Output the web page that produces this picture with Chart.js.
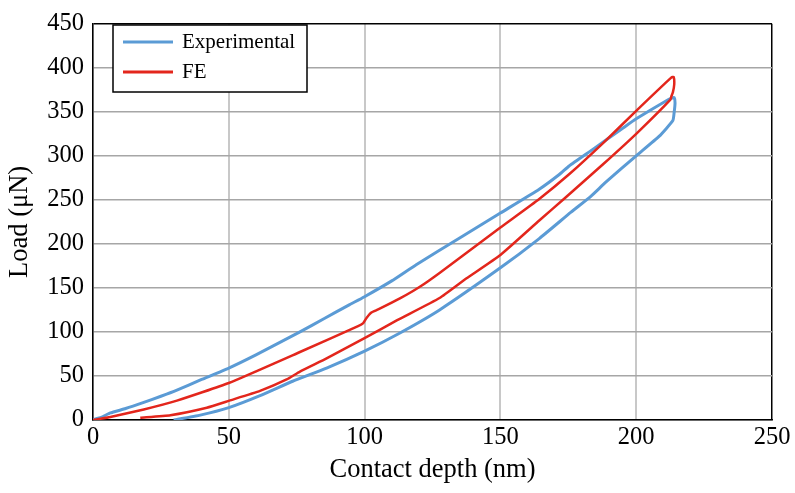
<!DOCTYPE html>
<html>
<head>
<meta charset="utf-8">
<script src="https://cdn.jsdelivr.net/npm/chart.js@4/dist/chart.umd.min.js"></script>
<style>
  html, body { margin: 0; padding: 0; background: #fff; }
  #wrap { width: 795px; height: 493px; }
</style>
</head>
<body>
<div id="wrap"><canvas id="chart" width="795" height="493"></canvas></div>
<script>
// experimental curve: loading then unloading
const expX = [0, 3, 6.4, 12, 18.7, 25, 30.9, 40, 50, 60, 76.2, 85, 94.5, 99.8, 110, 119, 135, 150, 164.3, 171.8, 175.3, 183.9, 194.9, 200, 210.8, 213, 214, 214.3, 214, 213.5,
  208.4, 200, 188.8, 183.3, 176, 164.3, 150, 127.6, 112.5, 99.8, 86, 73.5, 61.5, 50, 39.5, 29.7];
const expY = [0.5, 3, 8, 13, 20, 27, 34, 46, 59, 74, 100, 115, 131, 139.7, 158, 176.4, 206.6, 235, 262, 279, 288.5, 307, 331, 342, 362, 365.5, 366, 360, 350, 340,
  322, 300, 270, 254, 236, 206, 172.8, 125, 98, 78, 59, 44, 27.6, 14, 5.5, 0];

// FE curve: loading then unloading
const feX = [0, 6.4, 18.7, 30.9, 50, 76.2, 97.6, 99.5, 100.7, 102.5, 105, 113, 120.2, 127.6, 150, 164.3, 175.3, 188, 200, 213, 213.8, 214, 213.5, 213,
  212.6, 200, 188, 174.1, 164.3, 150, 137.4, 127.6, 112, 99.8, 86, 76.2, 71.3, 61.5, 50.2, 41.9, 28.5, 17.4];
const feY = [0, 3.5, 12, 22, 42, 77.2, 106.6, 110, 115.8, 122, 125.5, 138, 151, 167, 218.6, 251, 279, 315, 351, 389, 389.5, 381, 372, 368,
  363.8, 325, 291, 253, 226.5, 187.4, 160.6, 138.5, 113.3, 92.6, 70, 55, 46, 33, 22, 14, 5.5, 2.6];

const xTicks = [0, 50, 100, 150, 200, 250];
const yTicks = [0, 50, 100, 150, 200, 250, 300, 350, 400, 450];

const serif = '"Liberation Serif", "Times New Roman", serif';

function pts(xs, ys) {
  return xs.map((x, i) => ({ x: x, y: ys[i] }));
}

// legend box inside plot, top left
const boxLegend = {
  id: 'boxLegend',
  afterDraw(chart) {
    const ctx = chart.ctx;
    ctx.save();
    ctx.fillStyle = '#fff';
    ctx.fillRect(113, 25, 194, 67);
    ctx.strokeStyle = '#000';
    ctx.lineWidth = 1.5;
    ctx.strokeRect(113, 25, 194, 67);
    const items = [chart.data.datasets[1], chart.data.datasets[0]];
    items.forEach((ds, i) => {
      const y = 42 + i * 30;
      ctx.strokeStyle = ds.borderColor;
      ctx.lineWidth = 3;
      ctx.beginPath();
      ctx.moveTo(123, y);
      ctx.lineTo(173, y);
      ctx.stroke();
      ctx.fillStyle = '#000';
      ctx.font = '21px ' + serif;
      ctx.textBaseline = 'middle';
      ctx.fillText(ds.label, 182, y);
    });
    ctx.restore();
  }
};

new Chart(document.getElementById('chart'), {
  type: 'line',
  data: {
    datasets: [
      {
        label: 'FE',
        data: pts(feX, feY),
        borderColor: '#E3261C',
        borderWidth: 2.5,
        pointRadius: 0,
        tension: 0.15,
        order: 0
      },
      {
        label: 'Experimental',
        data: pts(expX, expY),
        borderColor: '#5B9BD5',
        borderWidth: 3,
        pointRadius: 0,
        tension: 0.15,
        order: 1
      }
    ]
  },
  options: {
    responsive: false,
    animation: false,
    layout: { padding: { top: 12, right: 23, left: 0, bottom: 0 } },
    plugins: { legend: { display: false }, tooltip: { enabled: false } },
    scales: {
      x: {
        type: 'linear',
        min: 0,
        max: 250,
        afterFit: s => { s.height = 73; },
        afterBuildTicks: s => { s.ticks = xTicks.map(v => ({ value: v })); },
        ticks: { color: '#000', font: { family: serif, size: 24.5 }, padding: 3, maxRotation: 0 },
        grid: {
          drawTicks: false,
          color: c => (c.tick && c.tick.value === 250 ? '#000' : '#c8c8c8'),
          lineWidth: c => (c.tick && c.tick.value === 250 ? 1.5 : 2)
        },
        border: { color: '#000', width: 1.5 },
        title: { display: true, text: 'Contact depth (nm)', color: '#000', font: { family: serif, size: 26.5 }, padding: { top: 0, bottom: 7 } }
      },
      y: {
        min: 0,
        max: 450,
        afterFit: s => { s.width = 93; },
        afterBuildTicks: s => { s.ticks = yTicks.map(v => ({ value: v })); },
        ticks: { color: '#000', font: { family: serif, size: 24.5 }, padding: 9 },
        grid: {
          drawTicks: false,
          color: c => (c.tick && c.tick.value === 450 ? '#000' : '#a6a6a6'),
          lineWidth: 1.5
        },
        border: { color: '#000', width: 1.5 },
        title: { display: true, text: 'Load (μN)', color: '#000', font: { family: serif, size: 26.5 }, padding: { top: 4, bottom: 0 } }
      }
    }
  },
  plugins: [boxLegend]
});
</script>
</body>
</html>
